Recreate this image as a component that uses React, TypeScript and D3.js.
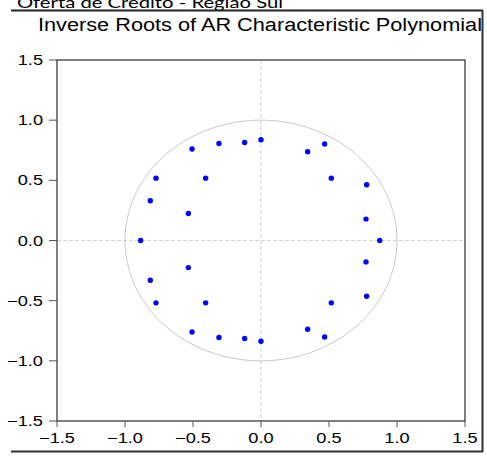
import * as d3 from "d3";

const rootRe = [
  0.0, 0.0, -0.12, -0.12, -0.309, -0.309, -0.507, -0.507, -0.407, -0.407,
  -0.772, -0.772, -0.814, -0.814, -0.534, -0.534, -0.885,
  0.343, 0.343, 0.468, 0.468, 0.517, 0.517, 0.777, 0.777, 0.772, 0.772, 0.873,
];
const rootIm = [
  0.837, -0.837, 0.815, -0.815, 0.806, -0.806, 0.76, -0.76, 0.518, -0.518,
  0.518, -0.518, 0.33, -0.33, 0.225, -0.225, 0.0,
  0.737, -0.737, 0.802, -0.802, 0.518, -0.518, 0.463, -0.463, 0.178, -0.178, 0.0,
];
const tickValues = [-1.5, -1.0, -0.5, 0.0, 0.5, 1.0, 1.5];

const pageTitle = "Oferta de Crédito - Região Sul";
const chartTitle = "Inverse Roots of AR Characteristic Polynomial";

export default function App() {
  const width = 487;
  const height = 457;
  const marginLeft = 57;
  const marginRight = 22;
  const marginTop = 60;
  const marginBottom = 36;
  // the original picture is stretched sideways, so are its texts
  const stretch = 1.3;

  const x = d3
    .scaleLinear()
    .domain([-1.5, 1.5])
    .range([marginLeft, width - marginRight]);
  const y = d3
    .scaleLinear()
    .domain([-1.5, 1.5])
    .range([height - marginBottom, marginTop]);

  const roots = rootRe.map((re, i) => ({ re, im: rootIm[i] }));
  const fmt = d3.format(".1f");

  // unit circle (ellipse on screen since x and y scales differ)
  const circle = d3
    .line<number>()
    .x((t) => x(Math.cos(t)))
    .y((t) => y(Math.sin(t)));
  const angles = d3.range(0, 2 * Math.PI + 0.01, Math.PI / 180);

  const font = "Arial, 'Liberation Sans', sans-serif";

  return (
    <svg
      width={width}
      height={height}
      style={{ position: "absolute", left: 0, top: 0, background: "#fff" }}
    >
      {/* page heading, cut off at the top like the original */}
      <text
        x={17}
        y={8}
        fontSize={16}
        fontFamily="Lato, 'Open Sans', sans-serif"
        fill="#000"
        textLength={266}
        lengthAdjust="spacingAndGlyphs"
      >
        {pageTitle}
      </text>

      {/* outer frame */}
      <line x1={11} x2={483} y1={10.5} y2={10.5} stroke="#222" strokeWidth={2} />
      <line x1={482.5} x2={482.5} y1={10} y2={452} stroke="#333" strokeWidth={2} />
      <line x1={11} x2={483} y1={451.5} y2={451.5} stroke="#333" strokeWidth={2} />

      <text
        x={(x(-1.5) + x(1.5)) / 2 - 1}
        y={31}
        textAnchor="middle"
        fontSize={18}
        fontFamily={font}
        fill="#000"
        textLength={444}
        lengthAdjust="spacingAndGlyphs"
      >
        {chartTitle}
      </text>

      {/* zero lines */}
      <line
        x1={x(0)}
        x2={x(0)}
        y1={y(1.5)}
        y2={y(-1.5)}
        stroke="#d4d4d4"
        strokeDasharray="4 2"
      />
      <line
        x1={x(-1.5)}
        x2={x(1.5)}
        y1={y(0)}
        y2={y(0)}
        stroke="#d4d4d4"
        strokeDasharray="4 2"
      />

      <path d={circle(angles) ?? ""} fill="none" stroke="#c8c8c8" strokeWidth={1} />

      {roots.map((d, i) => (
        <circle key={i} cx={x(d.re)} cy={y(d.im)} r={2.7} fill="#0000ff" />
      ))}

      {/* plot frame */}
      <rect
        x={x(-1.5)}
        y={y(1.5)}
        width={x(1.5) - x(-1.5)}
        height={y(-1.5) - y(1.5)}
        fill="none"
        stroke="#000"
        strokeWidth={1}
      />

      {/* Y axis */}
      {tickValues.map((t) => (
        <g key={"y" + t}>
          <line x1={x(-1.5) - 8} x2={x(-1.5)} y1={y(t)} y2={y(t)} stroke="#555" />
          <text
            transform={`translate(${x(-1.5) - 14},${y(t) + 5}) scale(${stretch},1)`}
            textAnchor="end"
            fontSize={14}
            fontFamily={font}
            fill="#000"
          >
            {fmt(t)}
          </text>
        </g>
      ))}

      {/* X axis */}
      {tickValues.map((t) => (
        <g key={"x" + t}>
          <line x1={x(t)} x2={x(t)} y1={y(-1.5)} y2={y(-1.5) + 6} stroke="#555" />
          <text
            transform={`translate(${x(t)},${y(-1.5) + 22}) scale(${stretch},1)`}
            textAnchor="middle"
            fontSize={14}
            fontFamily={font}
            fill="#000"
          >
            {fmt(t)}
          </text>
        </g>
      ))}
    </svg>
  );
}
